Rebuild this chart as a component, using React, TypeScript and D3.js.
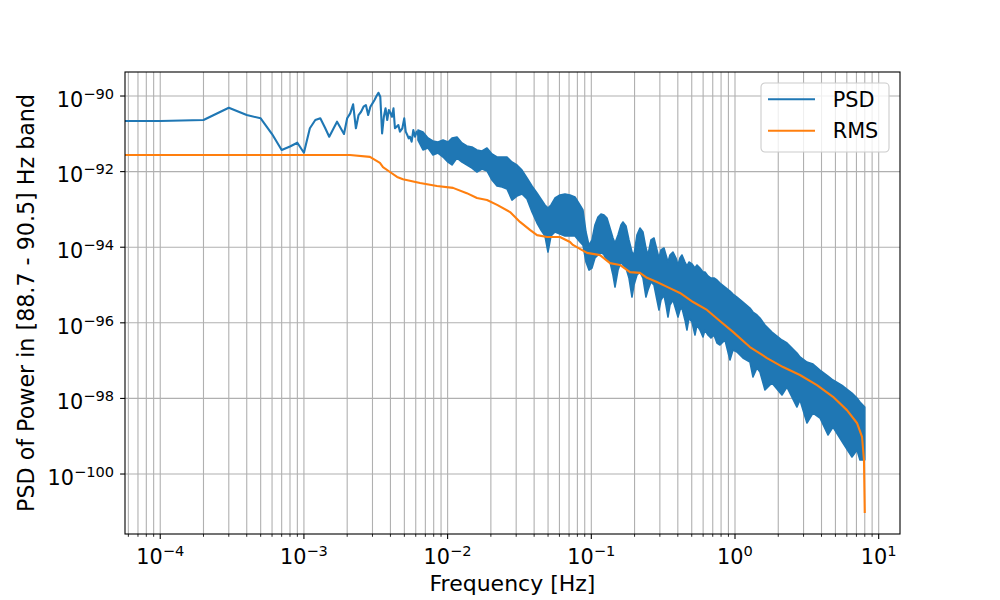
import React, { useEffect, useRef } from 'react';
import * as d3 from 'd3';

// PSD, low-frequency bins (Hz) where the single trace is still readable
const psdFreq = [
  0, 1e-4, 2e-4, 3e-4, 4e-4, 5e-4, 6e-4, 7e-4, 8e-4, 9e-4,
  1.0e-3, 1.1e-3, 1.2e-3, 1.3e-3, 1.4e-3, 1.5e-3, 1.6e-3, 1.7e-3, 1.8e-3, 1.9e-3,
  2.0e-3, 2.1e-3, 2.2e-3, 2.3e-3, 2.4e-3, 2.5e-3, 2.6e-3, 2.7e-3, 2.8e-3, 2.9e-3,
  3.0e-3, 3.1e-3, 3.2e-3, 3.3e-3, 3.4e-3, 3.5e-3, 3.6e-3, 3.7e-3, 3.8e-3, 3.9e-3,
  4.0e-3, 4.1e-3, 4.2e-3, 4.3e-3, 4.54e-3, 4.66e-3, 4.84e-3, 4.99e-3, 5.11e-3, 5.24e-3,
  5.36e-3, 5.47e-3, 5.62e-3, 5.77e-3, 5.93e-3, 6.09e-3, 6.35e-3,
];
const psdValue = [
  2.18e-91, 2.18e-91, 2.32e-91, 4.90e-91, 3.14e-91, 2.57e-91, 9.88e-92, 3.73e-92, 4.61e-92, 5.82e-92,
  3.16e-92, 1.40e-91, 2.32e-91, 2.57e-91, 1.47e-91, 8.38e-92, 1.34e-91, 2.09e-91, 1.42e-91, 9.88e-92,
  2.57e-91, 3.48e-91, 6.03e-91, 1.40e-91, 3.14e-91, 3.84e-91, 5.21e-91, 5.78e-91, 3.14e-91, 5.21e-91,
  6.41e-91, 7.84e-91, 1.0e-90, 1.22e-90, 9.58e-91, 1.03e-91, 2.83e-91, 4.73e-91, 2.32e-91, 4.26e-91,
  3.55e-91, 2.83e-91, 4.73e-91, 1.40e-91, 1.71e-91, 1.14e-91, 1.40e-91, 2.57e-91, 1.14e-91, 9.30e-92,
  7.60e-92, 8.38e-92, 6.18e-92, 1.26e-91, 8.38e-92, 1.14e-91, 8.38e-92,
];

// PSD, dense part: upper and lower envelope of the fast oscillation
const bandFreq = [
  6.22e-3, 6.74e-3, 7.30e-3, 7.91e-3, 8.57e-3, 9.29e-3, 1.006e-2, 1.073e-2, 1.162e-2, 1.259e-2,
  1.364e-2, 1.477e-2, 1.601e-2, 1.734e-2, 1.879e-2, 2.036e-2, 2.206e-2, 2.390e-2, 2.589e-2, 2.805e-2,
  3.039e-2, 3.293e-2, 3.568e-2, 3.866e-2, 4.188e-2, 4.465e-2, 4.760e-2, 4.994e-2, 5.240e-2, 5.586e-2,
  6.052e-2, 6.557e-2, 7.104e-2, 7.696e-2,
  0.08338, 0.08749, 0.09182, 0.09634, 0.1011, 0.1060, 0.1113, 0.1168, 0.1226, 0.1285,
  0.1349, 0.1415, 0.1462, 0.1534, 0.1609, 0.1661, 0.1743, 0.1829, 0.1919, 0.1981,
  0.2078, 0.2181, 0.2289, 0.2401, 0.2480, 0.2602, 0.2730, 0.2864, 0.2958, 0.3054,
  0.3204, 0.3309, 0.3417, 0.3528, 0.3701, 0.3883, 0.4010, 0.4140, 0.4275, 0.4485,
  0.4631, 0.4782, 0.5018, 0.5265, 0.5437, 0.5705, 0.5985, 0.6180, 0.6484, 0.6804,
  0.7139, 0.7490, 0.7860, 0.8516, 0.9226, 0.9680, 1.032, 1.136, 1.271, 1.334,
  1.422, 1.492, 1.616, 1.808, 2.123, 2.300, 2.699, 2.833, 3.168, 3.489,
  3.903, 4.437, 4.806, 5.642, 6.518, 7.060, 7.408, 8.0,
];
const bandUpper = [
  1.26e-91, 1.12e-91, 7.74e-92, 6.45e-92, 6.07e-92, 6.85e-92, 6.07e-92, 7.74e-92, 8.23e-92, 5.71e-92,
  4.76e-92, 4.48e-92, 3.73e-92, 3.51e-92, 4.21e-92, 2.92e-92, 2.43e-92, 2.43e-92, 2.43e-92, 1.79e-92,
  1.50e-92, 1.10e-92, 6.77e-93, 4.16e-93, 2.72e-93, 1.88e-93, 1.31e-93, 1.09e-93, 1.31e-93, 2.00e-93,
  2.40e-93, 2.56e-93, 2.40e-93, 2.13e-93,
  1.31e-93, 9.64e-94, 2.52e-94, 1.14e-94, 1.55e-94, 3.87e-94, 6.29e-94, 7.55e-94, 7.11e-94, 5.92e-94,
  3.22e-94, 1.75e-94, 1.29e-94, 2.10e-94, 3.87e-94, 4.64e-94, 3.64e-94, 1.55e-94, 7.46e-95, 6.22e-95,
  2.10e-94, 3.22e-94, 2.52e-94, 9.52e-95, 6.22e-95, 1.55e-94, 1.75e-94, 8.43e-95, 5.18e-95, 8.43e-95,
  9.52e-95, 6.22e-95, 4.06e-95, 6.22e-95, 7.46e-95, 5.18e-95, 3.38e-95, 5.18e-95, 6.22e-95, 4.06e-95,
  3.18e-95, 4.06e-95, 3.59e-95, 2.82e-95, 3.38e-95, 2.82e-95, 2.21e-95, 2.21e-95, 1.73e-95, 1.53e-95,
  1.53e-95, 1.36e-95, 1.13e-95, 8.85e-96, 6.94e-96, 5.78e-96, 4.81e-96, 3.55e-96, 2.46e-96, 1.93e-96,
  1.61e-96, 1.34e-96, 8.74e-97, 5.71e-97, 3.51e-97, 2.92e-97, 1.59e-97, 1.245e-97, 9.18e-98, 8.13e-98,
  5.64e-98, 3.91e-98, 3.07e-98, 2.13e-98, 1.39e-98, 1.02e-98, 8.03e-99, 5.92e-99,
];
const bandLower = [
  6.85e-92, 3.73e-92, 4.21e-92, 2.75e-92, 3.10e-92, 2.43e-92, 1.79e-92, 1.50e-92, 2.29e-92, 1.79e-92,
  1.50e-92, 1.245e-92, 9.76e-93, 1.17e-92, 1.04e-92, 5.99e-93, 4.16e-93, 3.91e-93, 3.47e-93, 1.77e-93,
  2.26e-93, 2.56e-93, 1.88e-93, 8.53e-94, 4.37e-94, 2.85e-94, 1.98e-94, 7.46e-95, 1.98e-94, 2.52e-94,
  2.24e-94, 1.98e-94, 1.98e-94, 1.98e-94,
  1.37e-94, 1.14e-94, 4.06e-95, 2.49e-95, 2.82e-95, 5.18e-95, 6.22e-95, 7.46e-95, 6.22e-95, 4.59e-95,
  4.06e-95, 1.84e-95, 8.85e-96, 2.49e-95, 4.06e-95, 3.38e-95, 2.82e-95, 1.53e-95, 4.81e-96, 1.0e-95,
  1.84e-95, 2.21e-95, 1.53e-95, 4.81e-96, 7.37e-96, 1.20e-95, 1.0e-95, 4.01e-96, 2.18e-96, 4.01e-96,
  5.44e-96, 2.96e-96, 1.42e-96, 2.96e-96, 4.01e-96, 2.18e-96, 1.42e-96, 2.18e-96, 2.46e-96, 1.19e-96,
  6.45e-97, 1.34e-96, 1.05e-96, 4.76e-97, 8.74e-97, 6.45e-97, 4.21e-97, 6.45e-97, 4.76e-97, 3.96e-97,
  4.76e-97, 2.92e-97, 2.59e-97, 3.51e-97, 1.04e-97, 1.91e-97, 1.69e-97, 1.17e-97, 9.18e-98, 3.68e-98,
  6.37e-98, 4.99e-98, 1.67e-98, 2.56e-98, 1.23e-98, 2.00e-98, 5.92e-99, 9.07e-99, 2.24e-99, 4.11e-99,
  3.03e-99, 1.08e-99, 1.75e-99, 6.61e-100, 2.82e-100, 4.31e-100, 2.35e-100, 2.35e-100,
];

// RMS trace
const rmsFreq = [
  0, 1e-4, 2.09e-3, 2.88e-3, 3.38e-3, 3.55e-3, 3.97e-3, 4.45e-3, 4.89e-3, 6.43e-3,
  8.43e-3, 1.09e-2, 1.36e-2, 1.60e-2, 1.88e-2, 2.21e-2, 2.72e-2, 3.19e-2, 3.74e-2, 4.19e-2,
  4.92e-2, 6.05e-2, 7.11e-2, 7.45e-2, 9.33e-2, 0.115, 0.135, 0.158, 0.186, 0.218,
  0.244, 0.286, 0.337, 0.414, 0.511, 0.638, 0.785, 0.968, 1.27, 1.67,
  2.16, 2.83, 3.72, 4.81, 6.01, 7.06, 7.66, 7.90, 8.0,
];
const rmsValue = [
  2.75e-92, 2.75e-92, 2.75e-92, 2.45e-92, 1.70e-92, 1.32e-92, 9.77e-93, 7.24e-93, 6.31e-93, 5.01e-93,
  4.17e-93, 3.72e-93, 2.69e-93, 2.0e-93, 1.78e-93, 1.32e-93, 8.51e-94, 4.68e-94, 2.88e-94, 2.09e-94,
  1.86e-94, 1.86e-94, 1.38e-94, 1.15e-94, 7.08e-95, 6.17e-95, 3.80e-95, 3.39e-95, 2.19e-95, 2.09e-95,
  1.55e-95, 1.20e-95, 8.91e-96, 6.17e-96, 3.55e-96, 2.19e-96, 1.12e-96, 5.75e-97, 2.29e-97, 1.17e-97,
  6.76e-98, 4.17e-98, 2.24e-98, 1.10e-98, 4.90e-99, 2.24e-99, 9.55e-100, 2.34e-100, 9.33e-102,
];

const xDomain = [5.686e-5, 14.07];
const yDomain = [2.59e-102, 4.32e-90];
const yTickExps = [-90, -92, -94, -96, -98, -100];
const legendItems = ['PSD', 'RMS'];

const W = 1000;
const H = 600;

export default function App() {
  const svgRef = useRef<SVGSVGElement>(null);

  useEffect(() => {
    if (!svgRef.current) return;
    const svg = d3.select(svgRef.current);
    svg.selectAll('*').remove();

    const margin = { top: 72, right: 100, bottom: 66, left: 125 };
    const iw = W - margin.left - margin.right;
    const ih = H - margin.top - margin.bottom;
    const font = "'DejaVu Sans', sans-serif";
    const colors = { psd: '#1f77b4', rms: '#ff7f0e', grid: '#b0b0b0', text: '#000000' };

    svg.append('rect').attr('width', W).attr('height', H).attr('fill', '#ffffff');

    const x = d3.scaleLog().domain(xDomain).range([0, iw]);
    const y = d3.scaleLog().domain(yDomain).range([ih, 0]);
    // the DC bin (f = 0) is pushed past the left edge, as a log axis clips it
    const fx = (f: number) => (f > 0 ? x(f) : x.range()[0] - 5);

    const g = svg.append('g').attr('transform', `translate(${margin.left},${margin.top})`);

    // grid: every x tick (major + minor), y only at labelled decades
    const xTicks = x.ticks().filter(t => t >= xDomain[0] && t <= xDomain[1]);
    const isMajor = (t: number) => Math.abs(Math.log10(t) - Math.round(Math.log10(t))) < 1e-9;

    g.selectAll('line.xgrid').data(xTicks).enter().append('line')
      .attr('x1', d => x(d)).attr('x2', d => x(d)).attr('y1', 0).attr('y2', ih)
      .attr('stroke', colors.grid).attr('stroke-width', 1.1);

    const yTicks = yTickExps.map(e => Math.pow(10, e));
    g.selectAll('line.ygrid').data(yTicks).enter().append('line')
      .attr('x1', 0).attr('x2', iw).attr('y1', d => y(d)).attr('y2', d => y(d))
      .attr('stroke', colors.grid).attr('stroke-width', 1.1);

    svg.append('defs').append('clipPath').attr('id', 'plotClip')
      .append('rect').attr('width', iw).attr('height', ih);

    const plot = g.append('g').attr('clip-path', 'url(#plotClip)');

    const band = d3.area<number>()
      .x((_, i) => x(bandFreq[i]))
      .y0((_, i) => y(bandLower[i]))
      .y1((_, i) => y(bandUpper[i]));

    plot.append('path').datum(bandFreq)
      .attr('d', band).attr('fill', colors.psd)
      .attr('stroke', colors.psd).attr('stroke-width', 1.6).attr('stroke-linejoin', 'round');

    const psdLine = d3.line<number>()
      .x((_, i) => fx(psdFreq[i])).y((_, i) => y(psdValue[i]));

    plot.append('path').datum(psdFreq)
      .attr('d', psdLine).attr('fill', 'none')
      .attr('stroke', colors.psd).attr('stroke-width', 2.1).attr('stroke-linejoin', 'round');

    const rmsLine = d3.line<number>()
      .x((_, i) => fx(rmsFreq[i])).y((_, i) => y(rmsValue[i]));

    plot.append('path').datum(rmsFreq)
      .attr('d', rmsLine).attr('fill', 'none')
      .attr('stroke', colors.rms).attr('stroke-width', 2.1).attr('stroke-linejoin', 'round');

    // spines
    g.append('rect').attr('width', iw).attr('height', ih)
      .attr('fill', 'none').attr('stroke', colors.text).attr('stroke-width', 1.1);

    // tick marks
    g.selectAll('line.xtick').data(xTicks).enter().append('line')
      .attr('x1', d => x(d)).attr('x2', d => x(d))
      .attr('y1', ih).attr('y2', d => ih + (isMajor(d) ? 4.9 : 2.8))
      .attr('stroke', colors.text).attr('stroke-width', d => (isMajor(d) ? 1.1 : 0.85));

    g.selectAll('line.ytick').data(yTicks).enter().append('line')
      .attr('x1', -4.9).attr('x2', 0).attr('y1', d => y(d)).attr('y2', d => y(d))
      .attr('stroke', colors.text).attr('stroke-width', 1.1);

    const powerLabel = (sel: d3.Selection<SVGTextElement, unknown, null, undefined>, exp: number) => {
      sel.append('tspan').text('10');
      sel.append('tspan').attr('dy', -8).attr('font-size', 14.6)
        .text(exp < 0 ? '\u2212' + Math.abs(exp) : String(exp));
    };

    xTicks.filter(isMajor).forEach(t => {
      const txt = g.append('text')
        .attr('x', x(t)).attr('y', ih + 30).attr('text-anchor', 'middle')
        .attr('font-family', font).attr('font-size', 20.8).attr('fill', colors.text);
      powerLabel(txt as any, Math.round(Math.log10(t)));
    });

    yTickExps.forEach(e => {
      const txt = g.append('text')
        .attr('x', -11).attr('y', y(Math.pow(10, e)) + 10.7).attr('text-anchor', 'end')
        .attr('font-family', font).attr('font-size', 20.8).attr('fill', colors.text);
      powerLabel(txt as any, e);
    });

    // axis labels
    g.append('text').attr('x', iw / 2).attr('y', ih + 56.7).attr('text-anchor', 'middle')
      .attr('font-family', font).attr('font-size', 22).attr('fill', colors.text)
      .text('Frequency [Hz]');

    g.append('text').attr('transform', 'rotate(-90)')
      .attr('x', -ih / 2).attr('y', -91).attr('text-anchor', 'middle')
      .attr('font-family', font).attr('font-size', 22.2).attr('fill', colors.text)
      .text('PSD of Power in [88.7 - 90.5] Hz band');

    // legend
    const legend = svg.append('g').attr('transform', 'translate(761,83)');
    legend.append('rect').attr('width', 128).attr('height', 69).attr('rx', 4)
      .attr('fill', '#ffffff').attr('fill-opacity', 0.8)
      .attr('stroke', '#cccccc').attr('stroke-width', 1.1);

    const legendColors = [colors.psd, colors.rms];
    legendItems.forEach((name, i) => {
      const ly = 16.3 + i * 31.4;
      legend.append('line').attr('x1', 7).attr('x2', 54).attr('y1', ly).attr('y2', ly)
        .attr('stroke', legendColors[i]).attr('stroke-width', 2.1);
      legend.append('text').attr('x', 71.7).attr('y', ly + 7.6)
        .attr('font-family', font).attr('font-size', 20.8).attr('fill', colors.text)
        .text(name);
    });
  }, []);

  return (
    <svg
      ref={svgRef}
      width={W}
      height={H}
      viewBox={`0 0 ${W} ${H}`}
      style={{ position: 'absolute', left: 0, top: 0, display: 'block' }}
    />
  );
}
